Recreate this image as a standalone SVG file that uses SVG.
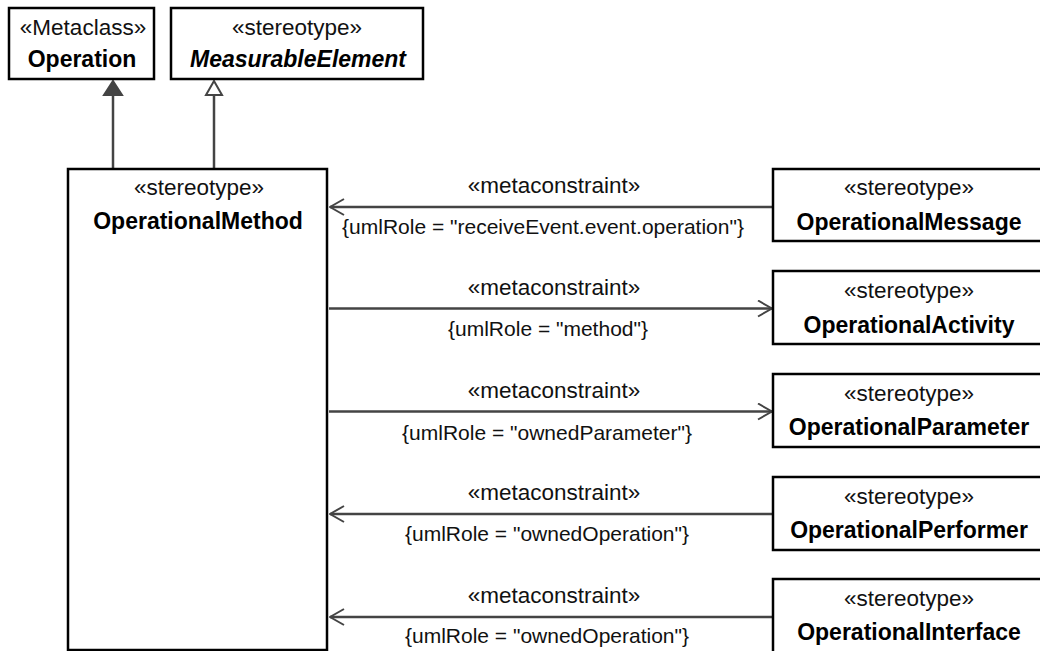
<svg xmlns="http://www.w3.org/2000/svg" width="1040" height="651" viewBox="0 0 1040 651">
<style>
.box{fill:#fff;stroke:#000;stroke-width:2.5}
.st{font-family:"Liberation Sans",Arial,sans-serif;font-size:22.5px;fill:#111;text-anchor:middle}
.nm{font-family:"Liberation Sans",Arial,sans-serif;font-size:23px;font-weight:bold;fill:#000;text-anchor:middle}
.mc{font-family:"Liberation Sans",Arial,sans-serif;font-size:22.5px;fill:#111;text-anchor:middle}
.lb{font-family:"Liberation Sans",Arial,sans-serif;font-size:21px;fill:#111;text-anchor:middle}
.cn{fill:none;stroke:#444;stroke-width:2.5}
</style>
<defs>
<marker id="open" viewBox="0 0 16 18" refX="15" refY="9" markerWidth="16" markerHeight="18" markerUnits="userSpaceOnUse" orient="auto">
<path d="M1,1 L15,9 L1,17" fill="none" stroke="#444" stroke-width="2"/>
</marker>
</defs>
<g id="connectors">
<line class="cn" x1="113" y1="169" x2="113" y2="95"/>
<polygon points="113,81 104,95 122,95" fill="#444" stroke="#444" stroke-width="2"/>
<line class="cn" x1="214" y1="169" x2="214" y2="95"/>
<polygon points="214,81 206,95 222,95" fill="#fff" stroke="#444" stroke-width="2"/>
<line class="cn" x1="773" y1="207" x2="330" y2="207" marker-end="url(#open)"/>
<text class="mc" x="554" y="193">«metaconstraint»</text>
<text class="lb" x="543" y="234">{umlRole = "receiveEvent.event.operation"}</text>
<line class="cn" x1="329" y1="308.5" x2="772" y2="308.5" marker-end="url(#open)"/>
<text class="mc" x="554" y="295">«metaconstraint»</text>
<text class="lb" x="548" y="336">{umlRole = "method"}</text>
<line class="cn" x1="329" y1="411.5" x2="772" y2="411.5" marker-end="url(#open)"/>
<text class="mc" x="554" y="398">«metaconstraint»</text>
<text class="lb" x="547" y="440">{umlRole = "ownedParameter"}</text>
<line class="cn" x1="773" y1="514" x2="330" y2="514" marker-end="url(#open)"/>
<text class="mc" x="554" y="500">«metaconstraint»</text>
<text class="lb" x="547" y="541">{umlRole = "ownedOperation"}</text>
<line class="cn" x1="773" y1="617" x2="330" y2="617" marker-end="url(#open)"/>
<text class="mc" x="554" y="603">«metaconstraint»</text>
<text class="lb" x="547" y="643">{umlRole = "ownedOperation"}</text>
</g>
<g id="operation">
<rect class="box" x="9" y="8" width="145" height="71"/>
<text class="st" x="83" y="35">«Metaclass»</text>
<text class="nm" x="82" y="67">Operation</text>
</g>
<g id="measurableElement">
<rect class="box" x="171" y="8" width="252" height="71"/>
<text class="st" x="297" y="35">«stereotype»</text>
<text class="nm" x="298" y="67" font-style="italic">MeasurableElement</text>
</g>
<g id="operationalMethod">
<rect class="box" x="68" y="169" width="259" height="481"/>
<text class="st" x="199" y="195">«stereotype»</text>
<text class="nm" x="198" y="229">OperationalMethod</text>
</g>
<g id="operationalMessage">
<rect class="box" x="773" y="169" width="275" height="72"/>
<text class="st" x="909" y="195">«stereotype»</text>
<text class="nm" x="909" y="230">OperationalMessage</text>
</g>
<g id="operationalActivity">
<rect class="box" x="773" y="271" width="275" height="73"/>
<text class="st" x="909" y="298">«stereotype»</text>
<text class="nm" x="909" y="333">OperationalActivity</text>
</g>
<g id="operationalParameter">
<rect class="box" x="773" y="374" width="275" height="73"/>
<text class="st" x="909" y="401">«stereotype»</text>
<text class="nm" x="909" y="435">OperationalParameter</text>
</g>
<g id="operationalPerformer">
<rect class="box" x="773" y="477" width="275" height="73"/>
<text class="st" x="909" y="504">«stereotype»</text>
<text class="nm" x="909" y="538">OperationalPerformer</text>
</g>
<g id="operationalInterface">
<rect class="box" x="773" y="579" width="275" height="80"/>
<text class="st" x="909" y="606">«stereotype»</text>
<text class="nm" x="909" y="640">OperationalInterface</text>
</g>
</svg>
